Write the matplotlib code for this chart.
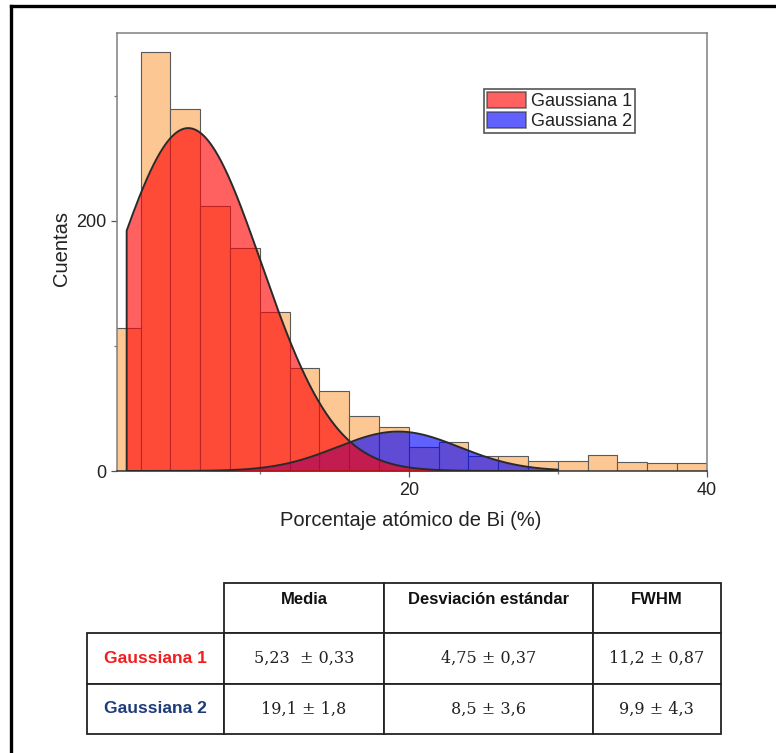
import numpy as np
import matplotlib
matplotlib.use('Agg')
import matplotlib.pyplot as plt
from matplotlib.patches import Patch
from matplotlib.lines import Line2D

plt.rcParams['font.family'] = ['Liberation Sans', 'DejaVu Sans']

# Histograma (bins de 2 %)
bin_left = [0, 2, 4, 6, 8, 10, 12, 14, 16, 18, 20, 22, 24, 26, 28, 30, 32, 34, 36, 38]
counts = [114, 335, 289, 212, 178, 127, 82, 64, 44, 35, 19, 23, 12, 12, 8, 8, 13, 7, 6, 6]
bin_width = 2

# Ajustes gaussianos (centro, sigma, altura)
g_names = ['Gaussiana 1', 'Gaussiana 2']
g_center = [5.2, 19.3]
g_sigma = [4.9, 4.1]
g_peak = [274, 31.5]
g_start = 1.07
g_end = 30

# Tabla
col_labels = ['Media', 'Desviación estándar', 'FWHM']
row_labels = ['Gaussiana 1', 'Gaussiana 2']
row_colors = ['#F01E1E', '#1F3C7A']
cell_text = [['5,23  ± 0,33', '4,75 ± 0,37', '11,2 ± 0,87'],
             ['19,1 ± 1,8', '8,5 ± 3,6', '9,9 ± 4,3']]

W, H = 776, 753
fig = plt.figure(figsize=(W / 100, H / 100), dpi=100)

# marco exterior (solo se ve arriba y a la izquierda)
fig.add_artist(Line2D([11 / W, 11 / W], [0, 1 - 5.5 / H], color='black', lw=2.4))
fig.add_artist(Line2D([11 / W, 1], [1 - 5.5 / H, 1 - 5.5 / H], color='black', lw=2.4))

ax = fig.add_axes([117.3 / W, 1 - 471 / H, (706.7 - 117.3) / W, (471 - 33) / H])

ax.bar(bin_left, counts, width=bin_width, align='edge', color='#FCC792',
       edgecolor='#5a5a5a', linewidth=0.8, zorder=1)

fills = ['#0000FF', '#FF0000']
x = np.linspace(g_start, g_end, 400)
curves = []
for c, s, p in zip(g_center, g_sigma, g_peak):
    curves.append(p * np.exp(-(x - c) ** 2 / (2 * s ** 2)))

# azul debajo, rojo encima
ax.fill_between(x, 0, curves[1], color=fills[0], alpha=0.62, lw=0, zorder=2)
ax.fill_between(x, 0, curves[0], color=fills[1], alpha=0.62, lw=0, zorder=3)
for y in curves:
    ax.plot(np.r_[g_start, x], np.r_[0, y], color='#2a2a2a', lw=1.4, zorder=4)

ax.set_xlim(0.44, 40)
ax.set_ylim(0, 350)
ax.set_xticks([20, 40])
ax.set_xticks([10, 30], minor=True)
ax.set_yticks([0, 200])
ax.set_yticks([100, 300], minor=True)
ax.tick_params(which='major', length=4, width=0.9, color='#555555', labelsize=13,
               labelcolor='#222222', pad=4)
ax.tick_params(which='minor', length=2.5, width=0.9, color='#777777')
for sp in ax.spines.values():
    sp.set_color('#808080')
    sp.set_linewidth(1.1)
ax.spines['bottom'].set_color('#333333')

fig.text(61 / W, 1 - 249 / H, 'Cuentas', rotation=90, ha='center', va='center',
         fontsize=14.5, color='#222222')
fig.text(411 / W, 1 - 521 / H, 'Porcentaje atómico de Bi (%)', ha='center', va='center',
         fontsize=14.5, color='#222222')

handles = [Patch(facecolor=fills[1], alpha=0.62, edgecolor='#333333', lw=1.2),
           Patch(facecolor=fills[0], alpha=0.62, edgecolor='#333333', lw=1.2)]
leg = ax.legend(handles, g_names, loc='upper left', bbox_to_anchor=(484 / W, 1 - 89 / H),
                bbox_transform=fig.transFigure, borderaxespad=0, fancybox=False,
                fontsize=13, handlelength=2.2, handleheight=1.0, labelspacing=0.1,
                borderpad=0.15, handletextpad=0.25, framealpha=1)
leg.get_frame().set_edgecolor('#555555')
leg.get_frame().set_linewidth(1.2)
for t in leg.get_texts():
    t.set_color('#222222')

# tabla de parametros
tax = fig.add_axes([87 / W, 1 - 734 / H, (720.7 - 87) / W, (734 - 583) / H])
tax.axis('off')
rows = [[''] + [c + '\n' for c in col_labels]]
for lab, vals in zip(row_labels, cell_text):
    rows.append([lab] + vals)
widths = [137, 160, 209, 127.7]
tbl = tax.table(cellText=rows, cellLoc='center', colWidths=[w / sum(widths) for w in widths],
                bbox=[0, 0, 1, 1])
tbl.auto_set_font_size(False)
for (r, c), cell in tbl.get_celld().items():
    cell.set_edgecolor('#222222')
    cell.set_linewidth(1.3)
    txt = cell.get_text()
    if r == 0:
        if c == 0:
            cell.visible_edges = 'open'
        txt.set_fontsize(12)
        txt.set_fontweight('bold')
        txt.set_color('#111111')
    elif c == 0:
        txt.set_fontsize(12.5)
        txt.set_fontweight('bold')
        txt.set_color(row_colors[r - 1])
    else:
        txt.set_fontsize(11.5)
        txt.set_family('DejaVu Serif')
        txt.set_color('#222222')

fig.savefig('out.png', dpi=100)
